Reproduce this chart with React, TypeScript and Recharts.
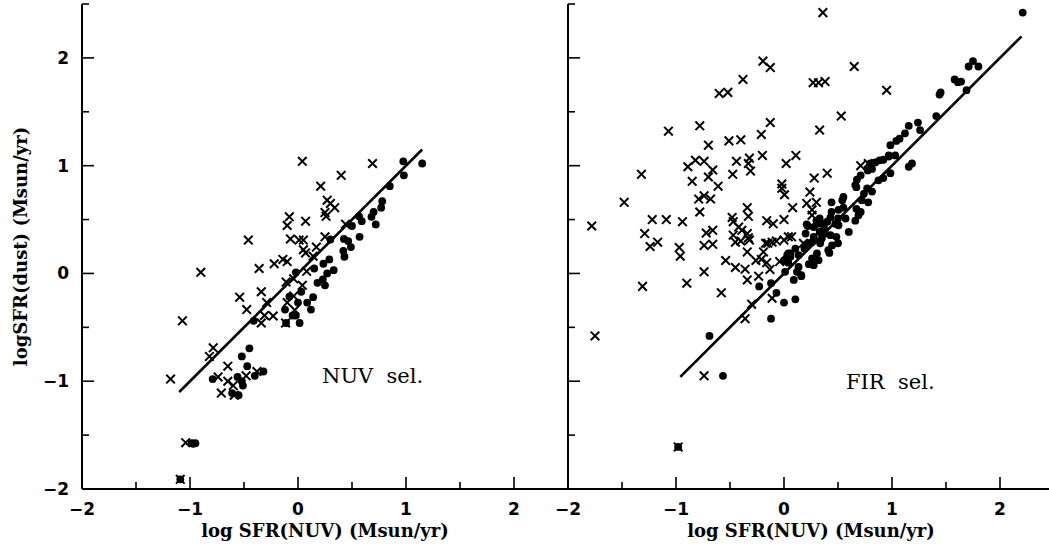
import React from 'react';
import { ScatterChart, Scatter, XAxis, YAxis } from 'recharts';

type Pt = { x: number; y: number };
const toPts = (rows: number[][]): Pt[] => rows.map(([x, y]) => ({ x, y }));

// NUV selected sample
const nuvCrosses = toPts([
  [0.04, 1.04], [0.69, 1.02], [0.4, 0.91], [0.21, 0.81], [0.27, 0.68], [0.3, 0.65], [0.34, 0.61],
  [0.25, 0.565], [0.26, 0.53], [-0.08, 0.525], [-0.1, 0.445], [0.07, 0.485], [0.44, 0.457],
  [-0.46, 0.31], [-0.07, 0.32], [0.01, 0.31], [0.05, 0.31], [0.25, 0.34], [0.05, 0.22], [0.07, 0.19],
  [0.17, 0.245], [0.14, 0.16], [-0.14, 0.13], [-0.22, 0.09], [-0.1, 0.11], [-0.36, 0.046],
  [-0.9, 0.01], [0.08, 0.02], [-0.11, -0.08], [-0.04, -0.05], [0.04, -0.11], [-0.54, -0.22],
  [-0.34, -0.17], [-0.29, -0.27], [-0.1, -0.27], [-0.04, -0.21], [-0.03, -0.34], [-0.475, -0.335],
  [-0.31, -0.39], [-0.23, -0.395], [-0.34, -0.46], [-0.115, -0.46], [-1.07, -0.44], [-0.785, -0.69],
  [-0.82, -0.77], [-1.18, -0.98], [-0.65, -0.86], [-0.74, -0.96], [-0.65, -1.0], [-0.6, -1.04],
  [-0.71, -1.11], [-0.59, -1.13], [-0.48, -0.95], [-0.38, -0.91], [-1.04, -1.57], [-1.09, -1.91],
]);

const nuvDots = toPts([
  [0.975, 1.04], [1.15, 1.02], [0.98, 0.91], [0.85, 0.81], [0.78, 0.67], [0.77, 0.61], [0.7, 0.57],
  [0.68, 0.525], [0.72, 0.455], [0.565, 0.53], [0.59, 0.485], [0.5, 0.44], [0.57, 0.34], [0.425, 0.32],
  [0.465, 0.3], [0.49, 0.245], [0.42, 0.21], [0.43, 0.155], [0.3, 0.315], [0.29, 0.13], [0.235, 0.09],
  [0.33, 0.03], [0.27, 0.0], [0.15, 0.046], [-0.02, 0.01], [0.18, -0.087], [0.23, -0.055], [0.25, -0.11],
  [0.03, -0.17], [0.14, -0.22], [0.085, -0.27], [0.12, -0.335], [0.0, -0.27], [-0.08, -0.215],
  [-0.12, -0.335], [-0.05, -0.39], [-0.02, -0.39], [0.015, -0.46], [-0.11, -0.46], [-0.41, -0.44],
  [-0.45, -0.695], [-0.52, -0.77], [-0.47, -0.86], [-0.79, -0.98], [-0.56, -0.96], [-0.52, -1.0],
  [-0.51, -1.04], [-0.4, -0.95], [-0.32, -0.91], [-0.61, -1.11], [-0.55, -1.13], [-0.985, -1.575],
  [-0.95, -1.575], [-1.09, -1.91], [-0.97, -1.58],
]);

const nuvFit = toPts([[-1.1, -1.1], [1.15, 1.15]]);

// FIR selected sample
const firCrosses = toPts([
  [0.36, 2.42], [-0.195, 1.97], [-0.127, 1.91], [-0.38, 1.8], [-0.6, 1.67], [-0.52, 1.68], [0.65, 1.92],
  [0.27, 1.77], [0.32, 1.77], [0.38, 1.78], [0.95, 1.7], [0.53, 1.46], [-0.127, 1.4], [0.33, 1.33],
  [-1.07, 1.32], [-0.78, 1.37], [-0.7, 1.19], [-0.51, 1.23], [-0.4, 1.24], [-0.21, 1.29], [-0.2, 1.095],
  [0.11, 1.095], [0.02, 1.02], [-0.32, 1.07], [-0.33, 1.02], [-0.31, 0.95], [-0.44, 1.04], [-0.475, 0.92],
  [-0.82, 1.05], [-0.74, 1.04], [-0.89, 0.99], [-0.66, 0.96], [-0.7, 0.895], [-0.85, 0.855], [-0.61, 0.81],
  [-1.32, 0.92], [0.28, 0.885], [0.4, 0.93], [-0.02, 0.83], [-0.02, 0.79], [0.005, 0.73], [0.24, 0.755],
  [0.21, 0.65], [0.3, 0.66], [0.08, 0.61], [0.26, 0.59], [0.26, 0.54], [0.71, 1.0], [0.78, 1.02],
  [-0.79, 0.69], [-0.74, 0.72], [-0.68, 0.69], [-0.78, 0.57], [-1.48, 0.66], [-1.78, 0.44], [-1.29, 0.37],
  [-1.22, 0.5], [-1.09, 0.5], [-0.94, 0.48], [-1.24, 0.25], [-1.17, 0.29], [-0.97, 0.24], [-0.96, 0.16],
  [-0.74, 0.015], [-0.9, -0.09], [-1.31, -0.12], [-1.75, -0.58], [-0.98, -1.61], [-0.72, 0.375],
  [-0.66, 0.4], [-0.74, 0.26], [-0.66, 0.27], [-0.54, 0.12], [-0.45, 0.055], [-0.36, 0.04], [-0.34, -0.06],
  [-0.235, -0.025], [-0.58, -0.18], [-0.48, 0.52], [-0.47, 0.48], [-0.34, 0.61], [-0.33, 0.53],
  [-0.42, 0.43], [-0.39, 0.4], [-0.34, 0.37], [-0.47, 0.355], [-0.45, 0.29], [-0.4, 0.3], [-0.33, 0.33],
  [-0.32, 0.31], [-0.34, 0.2], [-0.16, 0.49], [-0.1, 0.46], [0.0, 0.5], [-0.17, 0.28], [-0.11, 0.29],
  [-0.07, 0.3], [0.0, 0.31], [-0.19, 0.2], [-0.26, 0.12], [-0.21, 0.13], [-0.16, 0.1], [-0.13, 0.037],
  [-0.04, 0.11], [0.03, 0.12], [-0.11, -0.23], [-0.3, -0.285], [-0.36, -0.42], [-0.74, -0.95],
  [0.07, 0.34], [0.18, 0.28], [0.04, 0.34], [-0.15, 0.28],
]);

const firDots = toPts([
  [2.21, 2.42], [1.75, 1.97], [1.71, 1.92], [1.8, 1.92], [1.58, 1.8], [1.61, 1.775], [1.64, 1.78],
  [1.69, 1.7], [1.45, 1.68], [1.44, 1.66], [1.41, 1.46], [1.24, 1.4], [1.26, 1.33], [1.155, 1.37],
  [1.12, 1.3], [1.07, 1.25], [1.04, 1.23], [0.985, 1.19], [0.97, 1.085], [0.92, 1.055], [0.885, 1.05],
  [0.845, 1.03], [1.03, 1.095], [0.97, 1.095], [1.155, 0.99], [1.185, 1.02], [0.8, 1.02], [0.815, 0.97],
  [0.775, 0.956], [0.985, 0.93], [0.92, 0.885], [0.875, 0.864], [0.71, 0.91], [0.675, 0.87], [0.66, 0.82],
  [0.67, 0.8], [0.815, 0.76], [0.77, 0.79], [0.74, 0.74], [0.72, 0.68], [0.78, 0.66], [0.67, 0.6],
  [0.71, 0.57], [0.55, 0.71], [0.54, 0.68], [0.44, 0.66], [0.55, 0.61], [0.505, 0.59], [0.66, 0.49],
  [0.69, 0.54], [0.57, 0.51], [0.5, 0.51], [0.44, 0.57], [0.43, 0.52], [0.475, 0.46], [0.505, 0.447],
  [0.6, 0.385], [0.4, 0.48], [0.37, 0.43], [0.33, 0.51], [0.31, 0.46], [0.275, 0.43], [0.33, 0.385],
  [0.22, 0.44], [0.2, 0.37], [0.38, 0.37], [0.43, 0.355], [0.485, 0.34], [0.5, 0.28], [0.445, 0.26],
  [0.35, 0.325], [0.335, 0.28], [0.275, 0.34], [0.26, 0.29], [0.23, 0.28], [0.19, 0.23], [0.41, 0.216],
  [0.42, 0.19], [0.305, 0.185], [0.32, 0.123], [0.26, 0.14], [0.23, 0.086], [0.275, 0.077], [0.135, 0.17],
  [0.105, 0.23], [0.04, 0.185], [0.06, 0.155], [0.0, 0.12], [0.04, 0.1], [0.135, 0.06], [0.12, 0.015],
  [0.16, -0.015], [0.09, -0.06], [0.01, 0.015], [0.03, 0.17], [0.06, 0.185], [0.0, -0.27], [0.105, -0.24],
  [-0.07, -0.18], [-0.12, -0.09], [-0.23, -0.12], [-0.12, -0.42], [-0.69, -0.58], [-0.565, -0.95],
  [-0.98, -1.61], [0.16, -0.025], [0.3, 0.49], [0.34, 0.47], [0.21, 0.456],
]);

const firFit = toPts([[-0.96, -0.96], [2.2, 2.2]]);

const axisTicks = [-2, -1.5, -1, -0.5, 0, 0.5, 1, 1.5, 2, 2.5];
const axisDomain: [number, number] = [-2, 2.5];

const xTitle = 'log SFR(NUV) (Msun/yr)';
const yTitle = 'logSFR(dust) (Msun/yr)';

const TITLE_FONT = '"DejaVu Serif", serif';
const TICK_FONT = '"DejaVu Sans", sans-serif';

const fmt = (v: number) => (v < 0 ? '\u2212' + Math.abs(v) : String(v));
const isMajor = (v: number) => Number.isInteger(v);
const tickLen = (v: number) => (isMajor(v) ? 12 : 7);

const Cross = (p: any) => {
  const { cx, cy } = p;
  const s = 4.3;
  return (
    <path
      d={`M${cx - s},${cy - s}L${cx + s},${cy + s}M${cx - s},${cy + s}L${cx + s},${cy - s}`}
      stroke="#000"
      strokeWidth={2}
      fill="none"
    />
  );
};

const Dot = (p: any) => <circle cx={p.cx} cy={p.cy} r={3.9} fill="#000" />;

const NoShape = () => <g />;

const BottomTick = (p: any) => {
  const v = p.payload.value;
  return (
    <g>
      <line x1={p.x} x2={p.x} y1={p.y} y2={p.y - tickLen(v)} stroke="#000" strokeWidth={1.6} />
      {isMajor(v) && (
        <text x={p.x} y={p.y + 26} textAnchor="middle" fontFamily={TICK_FONT} fontWeight="bold" fontSize={17} fill="#000">
          {fmt(v)}
        </text>
      )}
    </g>
  );
};

const TopTick = (p: any) => {
  const v = p.payload.value;
  return <line x1={p.x} x2={p.x} y1={p.y} y2={p.y + tickLen(v)} stroke="#000" strokeWidth={1.6} />;
};

const LeftTick = (p: any, labels: boolean) => {
  const v = p.payload.value;
  return (
    <g>
      <line x1={p.x} x2={p.x + tickLen(v)} y1={p.y} y2={p.y} stroke="#000" strokeWidth={1.6} />
      {labels && isMajor(v) && (
        <text x={p.x - 13} y={p.y + 6} textAnchor="end" fontFamily={TICK_FONT} fontWeight="bold" fontSize={17} fill="#000">
          {fmt(v)}
        </text>
      )}
    </g>
  );
};

const RightTick = (p: any) => {
  const v = p.payload.value;
  return <line x1={p.x} x2={p.x - tickLen(v)} y1={p.y} y2={p.y} stroke="#000" strokeWidth={1.6} />;
};

const axisLine = { stroke: '#000', strokeWidth: 2 };

interface PanelProps {
  crosses: Pt[];
  dots: Pt[];
  fit: Pt[];
  yLabels: boolean;
}

const Panel: React.FC<PanelProps> = ({ crosses, dots, fit, yLabels }) => (
  <ScatterChart width={600} height={549} margin={{ top: 4, right: 32, bottom: 0, left: 0 }}>
    <XAxis
      xAxisId="b"
      dataKey="x"
      type="number"
      domain={axisDomain}
      ticks={axisTicks}
      interval={0}
      allowDataOverflow
      height={60}
      tickSize={0}
      tickMargin={0}
      tickLine={false}
      axisLine={axisLine}
      tick={(p: any) => <BottomTick {...p} />}
      label={(p: any) => {
        const vb = p.viewBox;
        return (
          <text x={vb.x + vb.width / 2} y={vb.y + 48} textAnchor="middle" fontFamily={TITLE_FONT} fontWeight="bold" fontSize={18} fill="#000">
            {xTitle}
          </text>
        );
      }}
    />
    <XAxis
      xAxisId="t"
      orientation="top"
      dataKey="x"
      type="number"
      domain={axisDomain}
      ticks={axisTicks}
      interval={0}
      allowDataOverflow
      height={0}
      tickSize={0}
      tickMargin={0}
      tickLine={false}
      axisLine={axisLine}
      tick={(p: any) => <TopTick {...p} />}
    />
    <YAxis
      yAxisId="l"
      dataKey="y"
      type="number"
      domain={axisDomain}
      ticks={axisTicks}
      interval={0}
      allowDataOverflow
      width={82}
      tickSize={0}
      tickMargin={0}
      tickLine={false}
      axisLine={axisLine}
      tick={(p: any) => LeftTick(p, yLabels)}
      label={
        yLabels
          ? (p: any) => {
              const vb = p.viewBox;
              const cy = vb.y + vb.height / 2;
              return (
                <text x={27} y={cy} transform={`rotate(-90 27 ${cy})`} textAnchor="middle" fontFamily={TITLE_FONT} fontWeight="bold" fontSize={18} fill="#000">
                  {yTitle}
                </text>
              );
            }
          : undefined
      }
    />
    <YAxis
      yAxisId="r"
      orientation="right"
      dataKey="y"
      type="number"
      domain={axisDomain}
      ticks={axisTicks}
      interval={0}
      allowDataOverflow
      width={0}
      tickSize={0}
      tickMargin={0}
      tickLine={false}
      axisLine={axisLine}
      tick={(p: any) => <RightTick {...p} />}
    />
    <Scatter xAxisId="b" yAxisId="l" data={crosses} shape={Cross} isAnimationActive={false} />
    <Scatter xAxisId="b" yAxisId="l" data={dots} shape={Dot} isAnimationActive={false} />
    <Scatter
      xAxisId="b"
      yAxisId="l"
      data={fit}
      line={{ stroke: '#000', strokeWidth: 2.6 }}
      shape={NoShape}
      isAnimationActive={false}
    />
  </ScatterChart>
);

export default function App() {
  return (
    <div style={{ position: 'absolute', left: 0, top: 0, width: 1049, height: 549, overflow: 'hidden', background: '#fff' }}>
      <div style={{ position: 'absolute', left: 0, top: 0 }}>
        <Panel crosses={nuvCrosses} dots={nuvDots} fit={nuvFit} yLabels />
      </div>
      <div style={{ position: 'absolute', left: 486, top: 0 }}>
        <Panel crosses={firCrosses} dots={firDots} fit={firFit} yLabels={false} />
      </div>
      <svg width={1049} height={549} style={{ position: 'absolute', left: 0, top: 0, pointerEvents: 'none' }}>
        <text x={322} y={383} fontFamily={TITLE_FONT} fontSize={21} fill="#000" xmlSpace="preserve">
          NUV  sel.
        </text>
        <text x={846} y={389} fontFamily={TITLE_FONT} fontSize={21} fill="#000" xmlSpace="preserve">
          FIR  sel.
        </text>
      </svg>
    </div>
  );
}
